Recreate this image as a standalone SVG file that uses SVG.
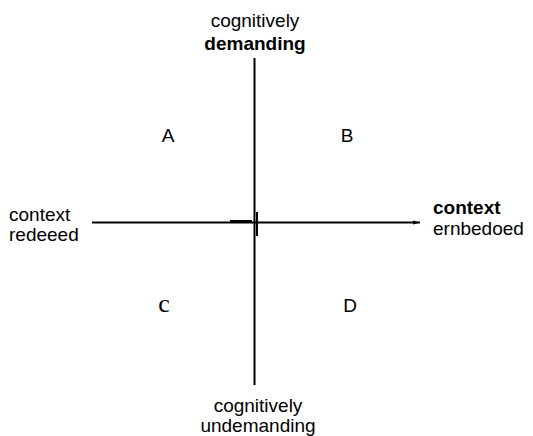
<svg xmlns="http://www.w3.org/2000/svg" width="533" height="436" viewBox="0 0 533 436">
<style>
.t{font-family:"Liberation Sans",Arial,sans-serif;font-size:19px;fill:#000}
.b{font-weight:bold}
.s{font-family:"Liberation Serif","Times New Roman",serif;font-size:26px;fill:#000}
.ax{stroke:#000;stroke-width:2;fill:none}
</style>
<defs>
<marker id="ah" markerWidth="8" markerHeight="6" refX="7" refY="3" orient="auto" markerUnits="userSpaceOnUse">
<path d="M0,1 L7,3 L0,5 Z" fill="#000"/>
</marker>
</defs>
<rect width="533" height="436" fill="#fff"/>
<g id="connectors">
<line class="ax" x1="254.5" y1="58" x2="254.5" y2="385"/>
<line class="ax" x1="92" y1="222.5" x2="420" y2="222.5" marker-end="url(#ah)"/>
<line class="ax" x1="230" y1="221" x2="252" y2="221"/>
<line class="ax" x1="257" y1="212" x2="257" y2="236"/>
</g>
<g id="top-label">
<text class="t" x="255" y="27" text-anchor="middle">cognitively</text>
<text class="t b" x="255" y="50" text-anchor="middle" font-size="17">demanding</text>
</g>
<g id="bottom-label">
<text class="t" x="258" y="412" text-anchor="middle">cognitively</text>
<text class="t" x="258" y="432" text-anchor="middle">undemanding</text>
</g>
<g id="left-label">
<text class="t" x="9" y="221">context</text>
<text class="t" x="9" y="241">redeeed</text>
</g>
<g id="right-label">
<text class="t b" x="433" y="214" font-size="17">context</text>
<text class="t" x="433" y="235">ernbedoed</text>
</g>
<g id="quadrant-A"><text class="t" x="168" y="142" text-anchor="middle">A</text></g>
<g id="quadrant-B"><text class="t" x="347" y="142" text-anchor="middle">B</text></g>
<g id="quadrant-C"><text class="s" x="164" y="312" text-anchor="middle">c</text></g>
<g id="quadrant-D"><text class="t" x="350" y="312" text-anchor="middle">D</text></g>
</svg>
